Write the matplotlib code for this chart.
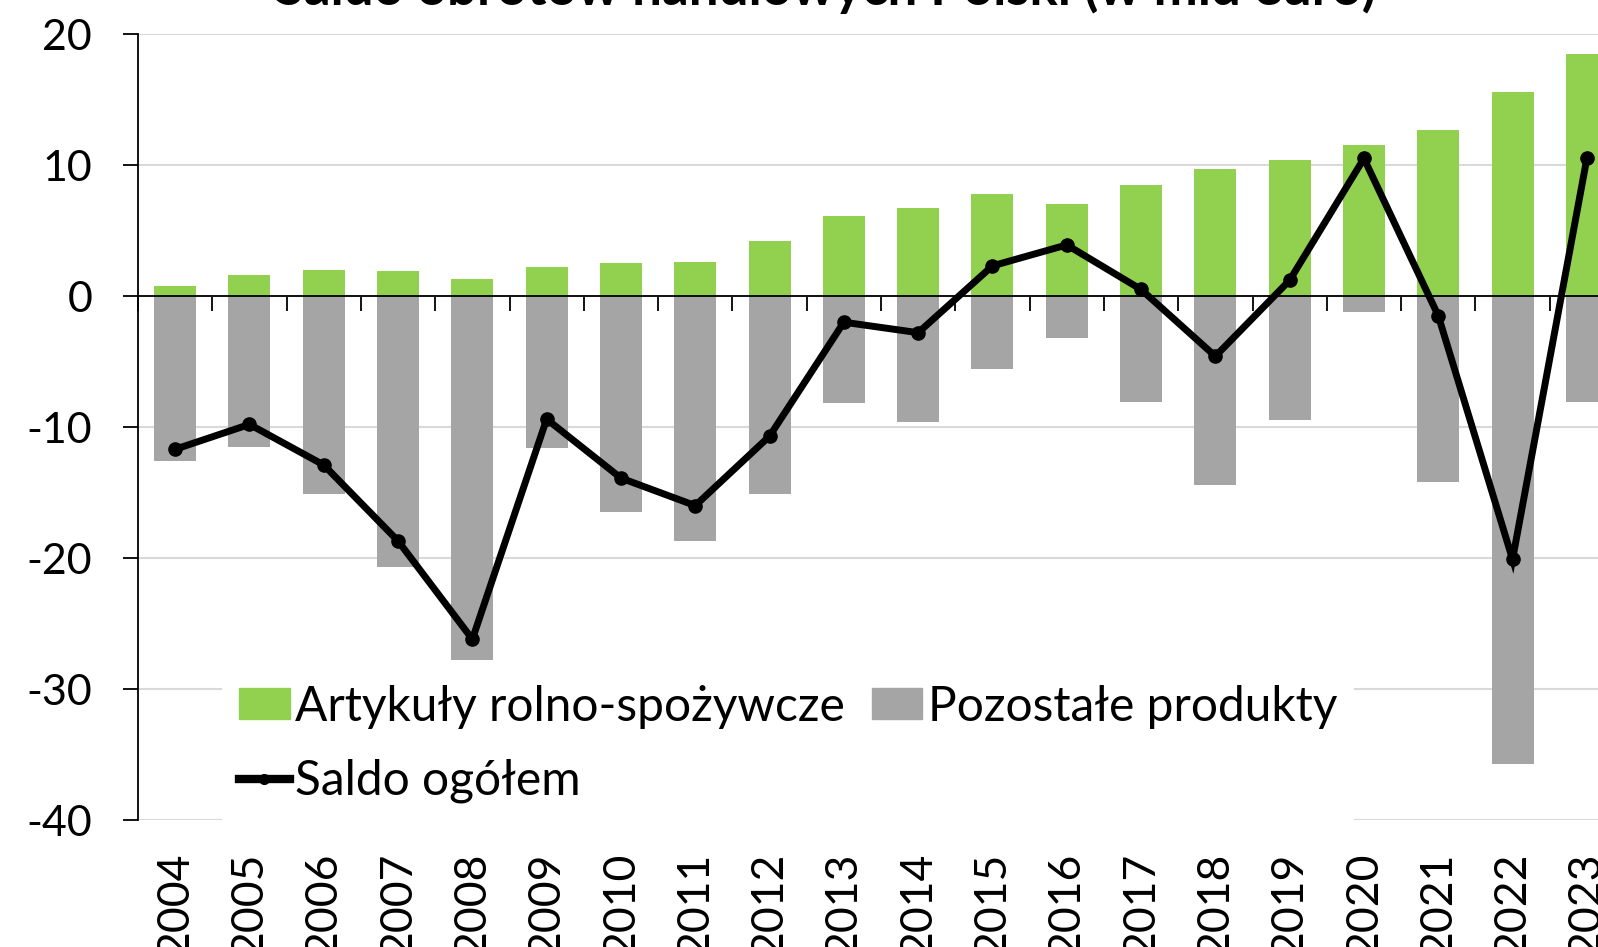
import matplotlib
matplotlib.use("Agg")
import matplotlib.pyplot as plt
import numpy as np
from matplotlib.patches import Patch
from matplotlib.lines import Line2D

plt.rcParams['font.family'] = ['Lato', 'DejaVu Sans']
plt.rcParams['axes.unicode_minus'] = False

years = ['2004', '2005', '2006', '2007', '2008', '2009', '2010', '2011', '2012', '2013',
         '2014', '2015', '2016', '2017', '2018', '2019', '2020', '2021', '2022', '2023']
agri = [0.8, 1.6, 2.0, 1.9, 1.3, 2.2, 2.5, 2.6, 4.2, 6.1,
        6.7, 7.8, 7.0, 8.5, 9.7, 10.4, 11.5, 12.7, 15.6, 18.5]
other = [-12.6, -11.5, -15.1, -20.7, -27.8, -11.6, -16.5, -18.7, -15.1, -8.2,
         -9.6, -5.6, -3.2, -8.1, -14.4, -9.5, -1.25, -14.2, -35.7, -8.1]
total = [-11.7, -9.8, -12.9, -18.7, -26.2, -9.4, -13.9, -16.0, -10.7, -2.0,
         -2.8, 2.3, 3.9, 0.5, -4.6, 1.2, 10.5, -1.5, -20.1, 10.5]
yticks = [-40, -30, -20, -10, 0, 10, 20]
ytick_labels = ['-40', '-30', '-20', '-10', '0', '10', '20']
title = 'Saldo obrotów handlowych Polski (w mld euro)'
lbl_agri = 'Artykuły rolno-spożywcze'
lbl_other = 'Pozostałe produkty'
lbl_total = 'Saldo ogółem'

GREEN = '#92D050'
GREY = '#A5A5A5'

W, H = 1598, 947
fig = plt.figure(figsize=(W / 100, H / 100), dpi=100)
ax_left, ax_right = 138, 138 + 20 * 74.3
ax_top, ax_bot = 34, 820
ax = fig.add_axes([ax_left / W, 1 - ax_bot / H, (ax_right - ax_left) / W, (ax_bot - ax_top) / H])

x = np.arange(len(years))
ax.bar(x, agri, width=0.565, color=GREEN, zorder=2)
ax.bar(x, other, width=0.565, color=GREY, zorder=2)
ax.plot(x, total, color='black', lw=5, marker='o', ms=9.5, zorder=4,
        solid_joinstyle='miter')

ax.set_xlim(-0.5, len(years) - 0.5)
ax.set_ylim(-40, 20)
ax.set_yticks(yticks, ytick_labels)
ax.yaxis.grid(True, color='#D9D9D9', lw=1.5)
ax.set_axisbelow(True)

for s in ['top', 'right']:
    ax.spines[s].set_visible(False)
ax.spines['left'].set_linewidth(1.3)
ax.spines['bottom'].set_position(('data', 0))
ax.spines['bottom'].set_linewidth(1.3)
ax.spines['bottom'].set_zorder(3)

ax.set_xticks(x, [''] * len(x))
ax.set_xticks(np.arange(-0.5, len(years), 1), minor=True)
ax.tick_params(axis='x', which='major', length=0)
ax.tick_params(axis='x', which='minor', length=11, width=1.3, direction='out')
ax.tick_params(axis='y', length=11, width=1.3, pad=22, labelsize=31)

sec = ax.secondary_xaxis('bottom')
sec.set_xticks(x, years)
sec.spines['bottom'].set_visible(False)
sec.tick_params(length=0, pad=23, labelsize=32, rotation=90)

handles = [Patch(color=GREEN), Line2D([], [], color='black', lw=6, marker='o', ms=7),
           Patch(color=GREY)]
leg = ax.legend(handles, [lbl_agri, lbl_total, lbl_other], ncol=2, loc='upper left',
                bbox_to_anchor=((222 - ax_left) / (ax_right - ax_left), 1 - (668 - ax_top) / (ax_bot - ax_top)),
                fontsize=34.5, frameon=True, framealpha=1, edgecolor='none', facecolor='white',
                fancybox=False, borderpad=0.35, handlelength=1.06, handleheight=0.62,
                handletextpad=0.12, columnspacing=0.55, labelspacing=0.63, borderaxespad=0)
leg.set_zorder(5)

fig.text(826 / W, 1 - 5 / H, title, ha='center', va='baseline', fontsize=38, fontweight='bold')

fig.savefig('out.png', dpi=100)
